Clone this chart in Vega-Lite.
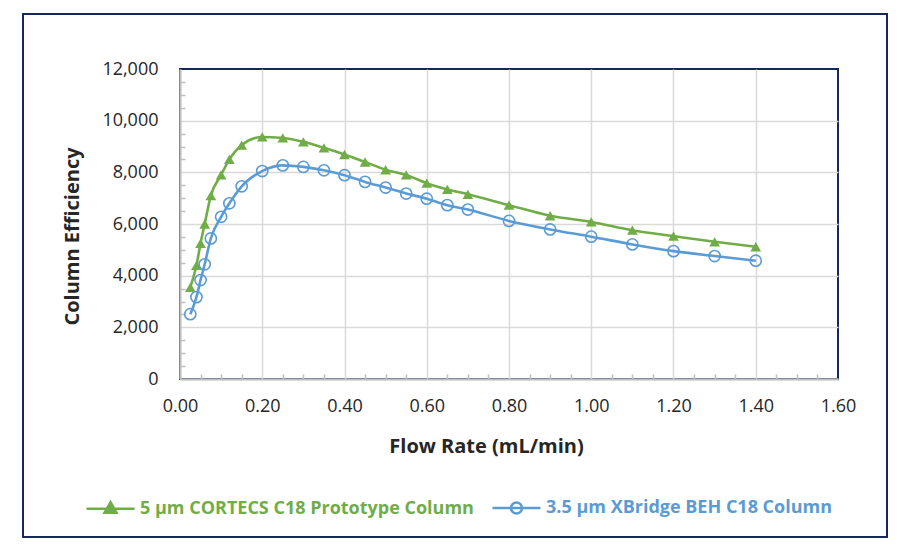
{
  "$schema": "https://vega.github.io/schema/vega-lite/v6.json",
  "width": 658,
  "height": 310,
  "autosize": {"type": "none"},
  "padding": {"left": 180, "top": 69, "right": 67, "bottom": 174},
  "background": "white",
  "config": {
    "font": "Open Sans",
    "view": {"stroke": "#16275a", "strokeWidth": 2}
  },
  "data": {
    "values": [
      {"flow": 0.025, "eff": 3550, "column": "5 µm CORTECS C18 Prototype Column"},
      {"flow": 0.04, "eff": 4400, "column": "5 µm CORTECS C18 Prototype Column"},
      {"flow": 0.05, "eff": 5250, "column": "5 µm CORTECS C18 Prototype Column"},
      {"flow": 0.06, "eff": 6000, "column": "5 µm CORTECS C18 Prototype Column"},
      {"flow": 0.075, "eff": 7100, "column": "5 µm CORTECS C18 Prototype Column"},
      {"flow": 0.1, "eff": 7900, "column": "5 µm CORTECS C18 Prototype Column"},
      {"flow": 0.12, "eff": 8500, "column": "5 µm CORTECS C18 Prototype Column"},
      {"flow": 0.15, "eff": 9050, "column": "5 µm CORTECS C18 Prototype Column"},
      {"flow": 0.2, "eff": 9370, "column": "5 µm CORTECS C18 Prototype Column"},
      {"flow": 0.25, "eff": 9330, "column": "5 µm CORTECS C18 Prototype Column"},
      {"flow": 0.3, "eff": 9180, "column": "5 µm CORTECS C18 Prototype Column"},
      {"flow": 0.35, "eff": 8950, "column": "5 µm CORTECS C18 Prototype Column"},
      {"flow": 0.4, "eff": 8690, "column": "5 µm CORTECS C18 Prototype Column"},
      {"flow": 0.45, "eff": 8400, "column": "5 µm CORTECS C18 Prototype Column"},
      {"flow": 0.5, "eff": 8100, "column": "5 µm CORTECS C18 Prototype Column"},
      {"flow": 0.55, "eff": 7900, "column": "5 µm CORTECS C18 Prototype Column"},
      {"flow": 0.6, "eff": 7580, "column": "5 µm CORTECS C18 Prototype Column"},
      {"flow": 0.65, "eff": 7340, "column": "5 µm CORTECS C18 Prototype Column"},
      {"flow": 0.7, "eff": 7150, "column": "5 µm CORTECS C18 Prototype Column"},
      {"flow": 0.8, "eff": 6730, "column": "5 µm CORTECS C18 Prototype Column"},
      {"flow": 0.9, "eff": 6320, "column": "5 µm CORTECS C18 Prototype Column"},
      {"flow": 1.0, "eff": 6080, "column": "5 µm CORTECS C18 Prototype Column"},
      {"flow": 1.1, "eff": 5760, "column": "5 µm CORTECS C18 Prototype Column"},
      {"flow": 1.2, "eff": 5530, "column": "5 µm CORTECS C18 Prototype Column"},
      {"flow": 1.3, "eff": 5310, "column": "5 µm CORTECS C18 Prototype Column"},
      {"flow": 1.4, "eff": 5120, "column": "5 µm CORTECS C18 Prototype Column"},
      {"flow": 0.025, "eff": 2510, "column": "3.5 µm XBridge BEH C18 Column"},
      {"flow": 0.04, "eff": 3170, "column": "3.5 µm XBridge BEH C18 Column"},
      {"flow": 0.05, "eff": 3830, "column": "3.5 µm XBridge BEH C18 Column"},
      {"flow": 0.06, "eff": 4440, "column": "3.5 µm XBridge BEH C18 Column"},
      {"flow": 0.075, "eff": 5440, "column": "3.5 µm XBridge BEH C18 Column"},
      {"flow": 0.1, "eff": 6280, "column": "3.5 µm XBridge BEH C18 Column"},
      {"flow": 0.12, "eff": 6800, "column": "3.5 µm XBridge BEH C18 Column"},
      {"flow": 0.15, "eff": 7460, "column": "3.5 µm XBridge BEH C18 Column"},
      {"flow": 0.2, "eff": 8050, "column": "3.5 µm XBridge BEH C18 Column"},
      {"flow": 0.25, "eff": 8270, "column": "3.5 µm XBridge BEH C18 Column"},
      {"flow": 0.3, "eff": 8210, "column": "3.5 µm XBridge BEH C18 Column"},
      {"flow": 0.35, "eff": 8080, "column": "3.5 µm XBridge BEH C18 Column"},
      {"flow": 0.4, "eff": 7890, "column": "3.5 µm XBridge BEH C18 Column"},
      {"flow": 0.45, "eff": 7630, "column": "3.5 µm XBridge BEH C18 Column"},
      {"flow": 0.5, "eff": 7410, "column": "3.5 µm XBridge BEH C18 Column"},
      {"flow": 0.55, "eff": 7180, "column": "3.5 µm XBridge BEH C18 Column"},
      {"flow": 0.6, "eff": 6980, "column": "3.5 µm XBridge BEH C18 Column"},
      {"flow": 0.65, "eff": 6730, "column": "3.5 µm XBridge BEH C18 Column"},
      {"flow": 0.7, "eff": 6560, "column": "3.5 µm XBridge BEH C18 Column"},
      {"flow": 0.8, "eff": 6120, "column": "3.5 µm XBridge BEH C18 Column"},
      {"flow": 0.9, "eff": 5790, "column": "3.5 µm XBridge BEH C18 Column"},
      {"flow": 1.0, "eff": 5510, "column": "3.5 µm XBridge BEH C18 Column"},
      {"flow": 1.1, "eff": 5210, "column": "3.5 µm XBridge BEH C18 Column"},
      {"flow": 1.2, "eff": 4950, "column": "3.5 µm XBridge BEH C18 Column"},
      {"flow": 1.3, "eff": 4760, "column": "3.5 µm XBridge BEH C18 Column"},
      {"flow": 1.4, "eff": 4580, "column": "3.5 µm XBridge BEH C18 Column"}
    ]
  },
  "resolve": {"axis": {"x": "independent", "y": "independent"}},
  "layer": [
    {
      "mark": {"type": "point", "opacity": 0},
      "encoding": {
        "x": {"field": "flow", "type": "quantitative", "axis": null, "scale": {"domain": [0, 1.6], "nice": false}},
        "y": {"field": "eff", "type": "quantitative", "axis": null, "scale": {"domain": [0, 12000], "nice": false}},
        "fill": {
          "field": "eff",
          "type": "quantitative",
          "scale": {"range": ["rgba(0,0,0,0)", "rgba(0,0,0,0)"]},
          "legend": {
            "type": "gradient",
            "orient": "none",
            "legendX": -157,
            "legendY": -55,
            "direction": "horizontal",
            "gradientLength": 864,
            "gradientThickness": 520,
            "gradientStrokeWidth": 0,
            "labelOpacity": 0,
            "labelFontSize": 1,
            "labelOffset": 2,
            "padding": 0,
            "title": null,
            "strokeColor": "#16275a",
            "encode": {"legend": {"update": {"strokeWidth": {"value": 2}}}}
          }
        }
      }
    },
    {
      "mark": {"type": "line", "interpolate": "monotone", "strokeWidth": 2.6},
      "encoding": {
        "x": {
          "field": "flow",
          "type": "quantitative",
          "scale": {"domain": [0, 1.6], "nice": false},
          "axis": {
            "title": "Flow Rate (mL/min)",
            "values": [0, 0.2, 0.4, 0.6, 0.8, 1.0, 1.2, 1.4, 1.6],
            "format": ".2f",
            "grid": true,
            "gridColor": {"condition": {"test": "datum.value > 1.59", "value": "transparent"}, "value": "#d9d9d9"},
            "gridWidth": 1.5,
            "domainColor": "#bfbfbf",
            "domainWidth": 2,
            "ticks": false,
            "labelPadding": 18,
            "labelFontSize": 18,
            "labelColor": "#262626",
            "labelFlush": false,
            "titleFontSize": 20,
            "titleFontWeight": "bold",
            "titleColor": "#262626",
            "titleX": 306,
            "titleY": 73,
            "titleBaseline": "alphabetic"
          }
        },
        "y": {
          "field": "eff",
          "type": "quantitative",
          "scale": {"domain": [0, 12000], "nice": false},
          "axis": {
            "title": "Column Efficiency",
            "values": [0, 2000, 4000, 6000, 8000, 10000, 12000],
            "format": ",d",
            "grid": true,
            "gridColor": {"condition": {"test": "datum.value > 11990", "value": "transparent"}, "value": "#d9d9d9"},
            "gridWidth": 1.5,
            "domainColor": "#bfbfbf",
            "domainWidth": 2,
            "ticks": false,
            "labelPadding": 22,
            "labelFontSize": 18,
            "labelColor": "#262626",
            "labelFlush": false,
            "titleFontSize": 20,
            "titleFontWeight": "bold",
            "titleColor": "#262626",
            "titleX": -102,
            "titleY": 167,
            "titleBaseline": "alphabetic"
          }
        },
        "color": {
          "field": "column",
          "type": "nominal",
          "scale": {
            "domain": ["5 µm CORTECS C18 Prototype Column", "3.5 µm XBridge BEH C18 Column"],
            "range": ["#70ad47", "#5b9bd5"]
          },
          "legend": {
            "title": null,
            "orient": "none",
            "legendX": -95,
            "legendY": 413,
            "direction": "horizontal",
            "padding": 0,
            "symbolSize": 2304,
            "symbolStrokeWidth": 2.5,
            "labelFontSize": 18,
            "labelFontWeight": "bold",
            "labelOffset": 4,
            "labelLimit": 500,
            "columnPadding": 13,
            "encode": {
              "symbols": {
                "update": {
                  "shape": {"signal": "datum.value === '5 µm CORTECS C18 Prototype Column' ? 'M-1,0H1M0,-0.27L0.25,0.17L-0.25,0.17Z' : 'M-1,0H1M0.23,0A0.23,0.23 0 1,1 -0.23,0A0.23,0.23 0 1,1 0.23,0'"},
                  "fill": {"signal": "datum.value === '5 µm CORTECS C18 Prototype Column' ? '#70ad47' : 'transparent'"},
                  "stroke": {"signal": "datum.value === '5 µm CORTECS C18 Prototype Column' ? '#70ad47' : '#5b9bd5'"},
                  "opacity": {"value": 1}
                }
              },
              "labels": {
                "update": {
                  "fill": {"signal": "datum.value === '5 µm CORTECS C18 Prototype Column' ? '#70ad47' : '#5b9bd5'"}
                }
              }
            }
          }
        }
      }
    },
    {
      "transform": [{"filter": "datum.column === '5 µm CORTECS C18 Prototype Column'"}],
      "mark": {"type": "point", "shape": "triangle-up", "filled": true, "size": 115, "color": "#70ad47", "opacity": 1},
      "encoding": {
        "x": {
          "field": "flow",
          "type": "quantitative",
          "axis": {
            "orient": "bottom",
            "values": [0.05, 0.1, 0.15, 0.25, 0.3, 0.35, 0.45, 0.5, 0.55, 0.65, 0.7, 0.75, 0.85, 0.9, 0.95, 1.05, 1.1, 1.15, 1.25, 1.3, 1.35, 1.45, 1.5, 1.55],
            "labels": false,
            "domain": false,
            "grid": false,
            "title": null,
            "tickSize": -5,
            "tickColor": "#bfbfbf",
            "tickWidth": 1.5
          }
        },
        "y": {
          "field": "eff",
          "type": "quantitative",
          "axis": {
            "orient": "left",
            "values": [500, 1000, 1500, 2500, 3000, 3500, 4500, 5000, 5500, 6500, 7000, 7500, 8500, 9000, 9500, 10500, 11000, 11500],
            "labels": false,
            "domain": false,
            "grid": false,
            "title": null,
            "tickSize": -5,
            "tickColor": "#bfbfbf",
            "tickWidth": 1.5
          }
        }
      }
    },
    {
      "transform": [{"filter": "datum.column === '3.5 µm XBridge BEH C18 Column'"}],
      "mark": {"type": "point", "shape": "circle", "filled": false, "size": 125, "strokeWidth": 1.6, "color": "#5b9bd5", "opacity": 1},
      "encoding": {
        "x": {"field": "flow", "type": "quantitative", "axis": null},
        "y": {"field": "eff", "type": "quantitative", "axis": null}
      }
    }
  ]
}
